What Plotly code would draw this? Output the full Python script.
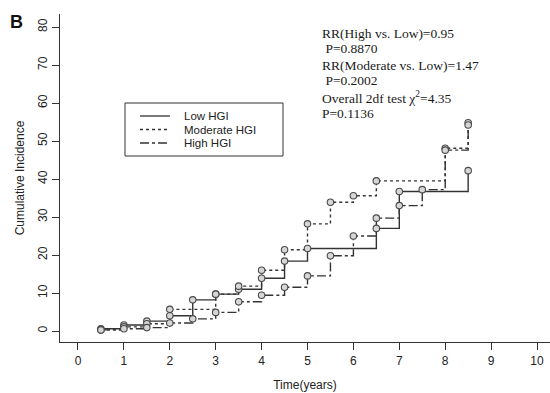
import plotly.graph_objects as go

# Data
times_low = [0.5, 1, 1.5, 2, 2.5, 3, 3.5, 4, 4.5, 5, 6.5, 7, 8.5]
inc_low = [0.6, 1.6, 2.6, 4.0, 8.2, 9.7, 11.0, 13.9, 18.4, 21.7, 27.0, 36.7, 42.2]

times_mod = [0.5, 1, 1.5, 2, 3, 3.5, 4, 4.5, 5, 5.5, 6, 6.5, 8, 8.5]
inc_mod = [0.3, 1.1, 1.9, 5.7, 9.7, 11.8, 16.0, 21.4, 28.2, 33.9, 35.6, 39.5, 48.1, 54.8]

times_high = [0.5, 1, 1.5, 2, 2.5, 3, 3.5, 4, 4.5, 5, 5.5, 6, 6.5, 7, 7.5, 8, 8.5]
inc_high = [0.3, 0.6, 0.9, 2.1, 3.2, 4.9, 7.7, 9.4, 11.5, 14.5, 19.8, 25.0, 29.7, 33.0, 37.2, 47.6, 54.2]

series_names = ["Low HGI", "Moderate HGI", "High HGI"]
series_dash = ["solid", "dot", "dashdot"]
series_times = [times_low, times_mod, times_high]
series_vals = [inc_low, inc_mod, inc_high]

stats_lines = [
    "RR(High vs. Low)=0.95",
    "&nbsp;P=0.8870",
    "RR(Moderate vs. Low)=1.47",
    "&nbsp;P=0.2002",
    "Overall 2df test χ<sup>2</sup>=4.35",
    "P=0.1136",
]

x_ticks = list(range(0, 11))
y_ticks = list(range(0, 81, 10))

LINE = "#333333"
fig = go.Figure()
for name, t, v, dash in zip(series_names, series_times, series_vals, series_dash):
    fig.add_trace(go.Scatter(
        x=t, y=v, mode="lines", name=name, line_shape="hv", showlegend=False,
        line=dict(color=LINE, width=1.4, dash=dash),
    ))
for name, t, v in zip(series_names, series_times, series_vals):
    fig.add_trace(go.Scatter(
        x=t, y=v, mode="markers", showlegend=False, name=name,
        marker=dict(symbol="circle", size=6.5, color="#d6d6d6",
                    line=dict(color="#4a4a4a", width=1.1)),
    ))

# plot area in pixels: left 60, right 550, top 14, bottom 342
L, R, T, B = 60, 550, 14, 342
W, H = 550, 393

def px_x(x):
    return (x - L) / (R - L)

def px_y(y):
    return (B - y) / (B - T)

line_y = [33, 49, 65, 81, 97, 113]
for txt, yy in zip(stats_lines, line_y):
    fig.add_annotation(
        x=px_x(320), y=px_y(yy), xref="paper", yref="paper",
        text=txt, showarrow=False, xanchor="left", yanchor="middle",
        font=dict(family="Liberation Serif", size=13.5, color="#1a1a1a"),
    )

fig.add_annotation(
    x=px_x(8), y=px_y(22), xref="paper", yref="paper", text="<b>B</b>",
    showarrow=False, xanchor="left", yanchor="middle",
    font=dict(family="Liberation Sans", size=18, color="#111111"),
)

# legend box drawn in paper space
fig.add_shape(type="rect", xref="paper", yref="paper",
              x0=px_x(125), x1=px_x(283), y0=px_y(156), y1=px_y(103),
              line=dict(color="#333333", width=1), fillcolor="white", layer="below")
leg_y = [116, 129.5, 143]
for name, dash, yy in zip(series_names, series_dash, leg_y):
    fig.add_shape(type="line", xref="paper", yref="paper",
                  x0=px_x(140), x1=px_x(170), y0=px_y(yy), y1=px_y(yy),
                  line=dict(color=LINE, width=1.3, dash=dash))
    fig.add_annotation(
        x=px_x(182), y=px_y(yy), xref="paper", yref="paper", text=name,
        showarrow=False, xanchor="left", yanchor="middle",
        font=dict(family="Liberation Sans", size=11.5, color="#222222"),
    )

fig.update_layout(
    width=W, height=H,
    margin=dict(l=L, r=W - R, t=T, b=H - B),
    paper_bgcolor="white", plot_bgcolor="white",
    font=dict(family="Liberation Sans", size=12, color="#222222"),
    showlegend=False,
    xaxis=dict(
        range=[-0.392, 10.283], tickvals=x_ticks, ticks="outside", ticklen=7,
        tickcolor=LINE, showline=True, linecolor=LINE, linewidth=1.3,
        showgrid=False, zeroline=False,
        title=dict(text="Time(years)", standoff=14, font=dict(size=12)),
        tickfont=dict(size=12),
    ),
    yaxis=dict(
        range=[-2.89, 83.42], tickvals=y_ticks, ticks="outside", ticklen=7,
        tickcolor=LINE, showline=True, linecolor=LINE, linewidth=1.3,
        showgrid=False, zeroline=False, tickangle=-90,
        title=dict(text="Cumulative Incidence", standoff=8, font=dict(size=12)),
        tickfont=dict(size=12),
    ),
)

fig.write_html("out.html")
